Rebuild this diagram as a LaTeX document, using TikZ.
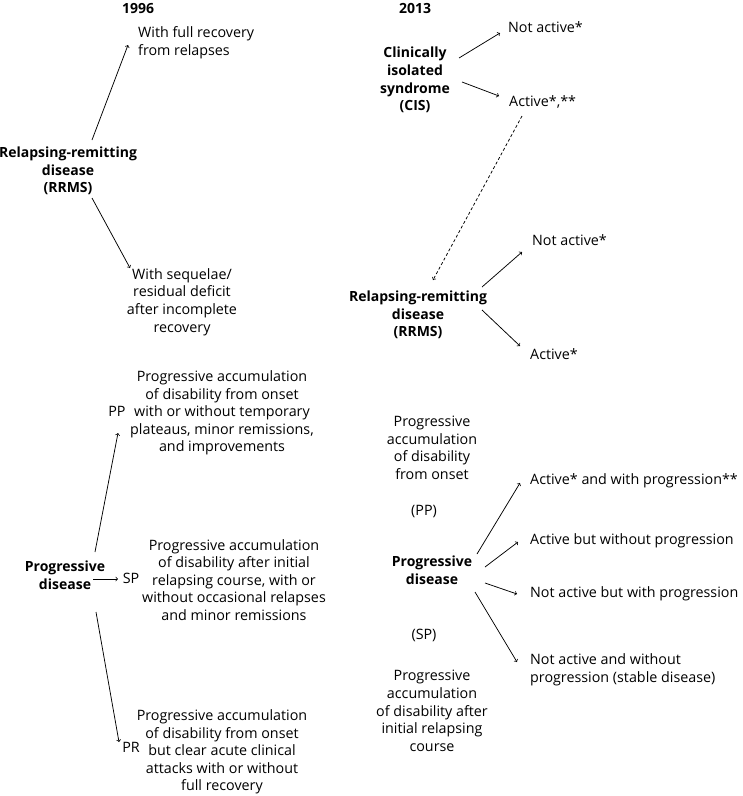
\documentclass[tikz,border=0pt]{standalone}
\usepackage{fontspec}
\setmainfont{Open Sans}
\usetikzlibrary{calc}
\begin{document}
\begin{tikzpicture}[x=1pt,y=-1pt,
  every node/.style={inner sep=0pt,font=\fontsize{14.3}{17.6}\selectfont},
  lbl/.style={align=center},
  hd/.style={align=center,font=\fontsize{14}{17.6}\selectfont\bfseries},
  lft/.style={align=left,anchor=west},
  arr/.style={->,line width=0.75pt},
  darr/.style={->,line width=0.75pt,dash pattern=on 3pt off 2.2pt}]
\useasboundingbox (0,0) rectangle (743,796);
% titles
\node[hd] (t96) at (138,9) {1996};
\node[hd] (t13) at (415,8) {2013};
% 1996 RRMS
\node[hd] (rr1) at (68,171) {Relapsing-remitting\\disease\\(RRMS)};
\node[lft] (wf) at (138,43) {With full recovery\\from relapses};
\node[lbl] (ws) at (182,302) {With sequelae/\\residual deficit\\after incomplete\\recovery};
% 2013 CIS
\node[hd] (cis) at (415,80) {Clinically\\isolated\\syndrome\\(CIS)};
\node[lft] (na1) at (508,27) {Not active*};
\node[lft] (ac1) at (509,102) {Active*,**};
% 2013 RRMS
\node[hd] (rr2) at (418,315) {Relapsing-remitting\\disease\\(RRMS)};
\node[lft] (na2) at (532,240) {Not active*};
\node[lft] (ac2) at (530,354) {Active*};
% 1996 progressive
\node[hd] (pd1) at (65,575) {Progressive\\disease};
\node (ppl) at (117,411) {PP};
\node[lbl] (ppt) at (222,413) {Progressive accumulation\\of disability from onset\\with or without temporary\\plateaus, minor remissions,\\and improvements};
\node (spl) at (131,578) {SP};
\node[lbl] (spt) at (234,580) {Progressive accumulation\\of disability after initial\\relapsing course, with or\\without occasional relapses\\and minor remissions};
\node (prl) at (131,747) {PR};
\node[lbl] (prt) at (222,752) {Progressive accumulation\\of disability from onset\\but clear acute clinical\\attacks with or without\\full recovery};
% 2013 progressive
\node[lbl] (ppr) at (432,448) {Progressive\\accumulation\\of disability\\from onset};
\node (ppp) at (424,512) {(PP)};
\node[hd] (pd2) at (432,570) {Progressive\\disease};
\node (spp) at (424,635) {(SP)};
\node[lbl] (spr) at (432,711) {Progressive\\accumulation\\of disability after\\initial relapsing\\course};
\node[lft] (r1) at (530,481) {Active* and with progression**};
\node[lft] (r2) at (530,541) {Active but without progression};
\node[lft] (r3) at (530,594) {Not active but with progression};
\node[lft] (r4) at (530,670) {Not active and without\\progression (stable disease)};
% connectors
\draw[arr] ($(rr1.center)+(24,-31)$) -- ($(wf.west)+(-10,2)$);
\draw[arr] ($(rr1.center)+(24,27)$) -- ($(ws.center)+(-52,-34)$);
\draw[arr] ($(cis.center)+(44,-22)$) -- ($(na1.west)+(-8,6)$);
\draw[arr] ($(cis.center)+(47,2)$) -- ($(ac1.west)+(-10,-6)$);
\draw[darr] ($(ac1.west)+(13,14)$) -- ($(rr2.center)+(15,-35)$);
\draw[arr] ($(rr2.center)+(64,-28)$) -- ($(na2.west)+(-10,12)$);
\draw[arr] ($(rr2.center)+(64,-5)$) -- ($(ac2.west)+(-10,-8)$);
\draw[arr] ($(pd1.center)+(30,-23)$) -- ($(ppl.center)+(1,22)$);
\draw[arr] ($(pd1.center)+(28,4)$) -- ($(spl.center)+(-13,1)$);
\draw[arr] ($(pd1.center)+(31,37)$) -- ($(prl.center)+(-12,-5)$);
\draw[arr] ($(pd2.center)+(45,-16)$) -- ($(r1.west)+(-10,2)$);
\draw[arr] ($(pd2.center)+(53,-3)$) -- ($(r2.west)+(-12,1)$);
\draw[arr] ($(pd2.center)+(53,13)$) -- ($(r3.west)+(-13,0)$);
\draw[arr] ($(pd2.center)+(43,22)$) -- ($(r4.west)+(-13,-8)$);
\end{tikzpicture}
\end{document}
